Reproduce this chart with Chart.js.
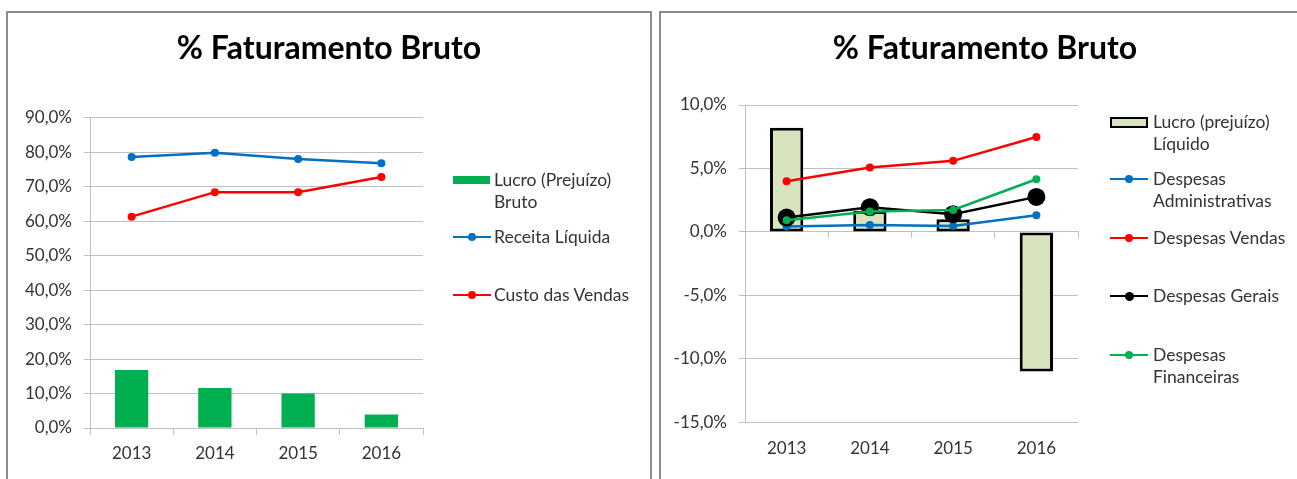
<!DOCTYPE html>
<html lang="pt-BR">
<head>
<meta charset="utf-8">
<title>% Faturamento Bruto</title>
<script src="https://cdn.jsdelivr.net/npm/chart.js@4.4.0/dist/chart.umd.min.js"></script>
<style>
    body { margin: 0; background: #fff; width: 1297px; height: 479px; overflow: hidden; position: relative; font-family: Lato, sans-serif; }
    .painel { position: absolute; border: 2px solid #8c8c8c; box-sizing: border-box; background: #fff; }
    canvas { position: absolute; }
    .leg-texto { position: absolute; font-size: 17.5px; color: #333; line-height: 22px; white-space: nowrap; }
    .leg-peca { position: absolute; box-sizing: border-box; }
</style>
</head>
<body>
<div class="painel" style="left:6px; top:11px; width:646px; height:520px;"></div>
<div class="painel" style="left:659px; top:11px; width:700px; height:520px;"></div>
<canvas id="graficoBruto" width="640" height="465" style="left:9px; top:14px;"></canvas>
<canvas id="graficoDespesas" width="646" height="465" style="left:662px; top:14px;"></canvas>
<div id="legendas"></div>

<script>
// Dados
const anos = ['2013', '2014', '2015', '2016'];

// gráfico da esquerda
const lucroBruto = [16.8, 11.6, 10.0, 3.9];
const receitaLiquida = [78.6, 79.8, 78.0, 76.8];
const custoVendas = [61.3, 68.4, 68.4, 72.8];
const escalaBruto = [0, 90, 10]; // min, max, passo

// gráfico da direita
const lucroLiquido = [8.2, 1.65, 1.0, -11.0];
const despAdministrativas = [0.42, 0.55, 0.47, 1.31];
const despVendas = [4.0, 5.07, 5.6, 7.48];
const despGerais = [1.13, 1.95, 1.4, 2.76];
const despFinanceiras = [0.92, 1.6, 1.73, 4.15];
const escalaDespesas = [-15, 10, 5];

const titulo = '% Faturamento Bruto';
const nomesBruto = [['Lucro (Prejuízo)', 'Bruto'], ['Receita Líquida'], ['Custo das Vendas']];
const nomesDespesas = [['Lucro (prejuízo)', 'Líquido'], ['Despesas', 'Administrativas'], ['Despesas Vendas'], ['Despesas Gerais'], ['Despesas', 'Financeiras']];

const corGrade = '#c0c0c0';
const corTexto = '#333333';
const fonte = 'Lato';
const fonteEixo = { family: fonte, size: 17 };

// formato brasileiro: 10,0%
function formatarPct(v) {
    return v.toFixed(1).replace('.', ',') + '%';
}

function linha(nome, dados, cor, raio, ordem) {
    return {
        type: 'line', label: nome, data: dados,
        borderColor: cor, backgroundColor: cor, borderWidth: 2.5,
        pointRadius: raio, pointHoverRadius: raio, pointBorderWidth: 0,
        order: ordem
    };
}

function opcoesBase(padTitulo) {
    return {
        responsive: false,
        animation: false,
        devicePixelRatio: 1,
        plugins: {
            legend: { display: false },
            tooltip: { enabled: false },
            title: {
                display: true, text: titulo, color: '#000',
                font: { family: fonte, size: 32, weight: 'bold' },
                padding: padTitulo
            }
        }
    };
}

// eixo vazio à direita, só para reservar o espaço da legenda sem descentralizar o título
function espacoLegenda(largura) {
    return {
        position: 'right', display: true,
        grid: { display: false, drawTicks: false }, border: { display: false },
        ticks: { display: false },
        afterFit: (s) => { s.width = largura; }
    };
}

// Gráfico 1 - Lucro bruto, receita e custo
const opcoesBruto = opcoesBase({ top: 15, bottom: 50.3 });
opcoesBruto.scales = {
    x: {
        grid: { drawOnChartArea: false, offset: true, tickLength: 7, color: corGrade },
        border: { color: corGrade },
        ticks: { color: corTexto, font: fonteEixo, padding: 8 },
        afterFit: (s) => { s.height = 51; }
    },
    y: {
        min: escalaBruto[0], max: escalaBruto[1],
        grid: { color: corGrade, tickLength: 6 },
        border: { color: corGrade },
        ticks: { stepSize: escalaBruto[2], color: corTexto, font: fonteEixo, padding: 12, callback: formatarPct },
        afterFit: (s) => { s.width = 81; }
    },
    espaco: espacoLegenda(226)
};

new Chart(document.getElementById('graficoBruto'), {
    type: 'bar',
    data: {
        labels: anos,
        datasets: [
            linha(nomesBruto[1].join(' '), receitaLiquida, '#0070c0', 4, 2),
            linha(nomesBruto[2].join(' '), custoVendas, '#ff0000', 4, 1),
            {
                type: 'bar', label: nomesBruto[0].join(' '), data: lucroBruto,
                backgroundColor: '#00b050', barPercentage: 0.4, categoryPercentage: 1, order: 10
            }
        ]
    },
    options: opcoesBruto
});

// Gráfico 2 - Lucro líquido e despesas
const opcoesDespesas = opcoesBase({ top: 15, bottom: 37.6 });
opcoesDespesas.scales = {
    x: {
        grid: { display: false, drawTicks: false },
        border: { display: false },
        ticks: { color: corTexto, font: fonteEixo, padding: 16 },
        afterFit: (s) => { s.height = 56.7; }
    },
    // eixo horizontal cruzando no zero, só com as marcas
    x2: {
        type: 'category', labels: anos, position: { y: 0 }, offset: true,
        grid: { drawOnChartArea: false, offset: true, tickLength: 6, color: corGrade },
        border: { color: corGrade },
        ticks: { display: false }
    },
    y: {
        min: escalaDespesas[0], max: escalaDespesas[1],
        grid: { color: corGrade, tickLength: 6 },
        border: { color: corGrade },
        ticks: { stepSize: escalaDespesas[2], color: corTexto, font: fonteEixo, padding: 12, callback: formatarPct },
        afterFit: (s) => { s.width = 83; }
    },
    espaco: espacoLegenda(230)
};

new Chart(document.getElementById('graficoDespesas'), {
    type: 'bar',
    data: {
        labels: anos,
        datasets: [
            {
                type: 'bar', label: nomesDespesas[0].join(' '), data: lucroLiquido,
                backgroundColor: '#d7e4bd', borderColor: '#000', borderWidth: 3, borderSkipped: false,
                barPercentage: 0.4, categoryPercentage: 1, order: 10
            },
            linha(nomesDespesas[1].join(' '), despAdministrativas, '#0070c0', 4, 4),
            linha(nomesDespesas[2].join(' '), despVendas, '#ff0000', 4, 3),
            linha(nomesDespesas[3].join(' '), despGerais, '#000000', 9, 2),
            linha(nomesDespesas[4].join(' '), despFinanceiras, '#00b050', 4, 1)
        ]
    },
    options: opcoesDespesas
});

// Legendas em HTML (o Chart.js não quebra linhas na legenda)
const posLegBruto = { x: 453, texto: 494, ys: [180, 237, 295] };
const posLegDespesas = { x: 1110, texto: 1153, ys: [122, 179, 238, 296, 355] };

function peca(estilo) {
    const d = document.createElement('div');
    d.className = 'leg-peca';
    Object.assign(d.style, estilo);
    document.getElementById('legendas').appendChild(d);
}

function itemLegenda(pos, i, linhas, tipo, cor, raio) {
    const y = pos.ys[i];
    if (tipo === 'barraCheia') {
        peca({ left: pos.x + 'px', top: (y - 4) + 'px', width: '37px', height: '8px', background: cor });
    } else if (tipo === 'barraBorda') {
        peca({ left: pos.x + 'px', top: (y - 5.5) + 'px', width: '38px', height: '11px', background: cor, border: '2.5px solid #000' });
    } else {
        peca({ left: pos.x + 'px', top: (y - 1.25) + 'px', width: '38px', height: '2.5px', background: cor });
        peca({ left: (pos.x + 19 - raio) + 'px', top: (y - raio) + 'px', width: (raio * 2) + 'px', height: (raio * 2) + 'px', background: cor, borderRadius: '50%' });
    }
    const t = document.createElement('div');
    t.className = 'leg-texto';
    t.style.left = pos.texto + 'px';
    t.style.top = (y - 11) + 'px';
    t.innerHTML = linhas.join('<br>');
    document.getElementById('legendas').appendChild(t);
}

itemLegenda(posLegBruto, 0, nomesBruto[0], 'barraCheia', '#00b050');
itemLegenda(posLegBruto, 1, nomesBruto[1], 'linha', '#0070c0', 4);
itemLegenda(posLegBruto, 2, nomesBruto[2], 'linha', '#ff0000', 4);

itemLegenda(posLegDespesas, 0, nomesDespesas[0], 'barraBorda', '#d7e4bd');
itemLegenda(posLegDespesas, 1, nomesDespesas[1], 'linha', '#0070c0', 4);
itemLegenda(posLegDespesas, 2, nomesDespesas[2], 'linha', '#ff0000', 4);
itemLegenda(posLegDespesas, 3, nomesDespesas[3], 'linha', '#000000', 4.5);
itemLegenda(posLegDespesas, 4, nomesDespesas[4], 'linha', '#00b050', 4);
</script>
</body>
</html>
